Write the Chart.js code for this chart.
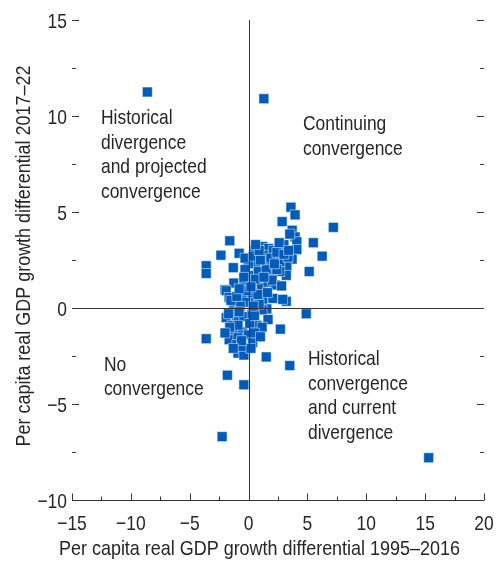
<!DOCTYPE html>
<html>
<head>
<meta charset="utf-8">
<script src="https://cdn.jsdelivr.net/npm/chart.js@4"></script>
<style>
  html, body { margin: 0; padding: 0; background: #fff; }
  #wrap { width: 496px; height: 564px; }
</style>
</head>
<body>
<div id="wrap"><canvas id="chart" width="496" height="564"></canvas></div>
<script>
// growth differential 1995-2016 (x) vs projected 2017-22 (y)
const histGrowth = [
  -8.6, 1.3, 15.3, -2.25, -3.6, -0.4, -1.8, 3.5, 1.5, 4.9,
  2.7, 3.2, 7.2, 5.5, 6.25, 5.15, 3.6, 3.95, 2.85, -3.6,
  -3.6, -2.35, -1.6, -0.8, -1.3, -1.25, -2.0, 3.7, 3.95, 4.1,
  1.2, 3.0, 1.7, 4.1, 3.7, 3.25, -0.1, 0.6, 1.4, 2.25,
  2.65, 3.2, 1.8, 0.8, 0.0, -1.9, -1.65, -0.55, -0.5, 0.35,
  1.1, 1.65, 2.3, 2.05, 2.9, 1.2, 0.55, 1.55, 1.15, -1.25,
  -1.9, -1.0, -0.4, 1.65, 0.7, 1.15, -1.4, -1.15, -0.5, -1.65,
  -0.9, 0.0, 0.35, -1.0, -0.9, -0.4, 3.35, 2.65, 2.0, 2.8,
  0.0, -0.3, -0.4, -0.3, 0.3, 0.9, 0.3, -0.7, 1.8, 2.1,
  1.5, 2.4, 0.5, 0.8, 0.1, -0.9, 0.5, -0.6, 0.2, 3.5,
  -0.3, -0.4, -0.2, 0.4, 0.6, 1.0, 1.3, 0.9, 1.9, 2.4,
  3.0, 2.6, 3.4, -1.3, -0.8, -1.6, -0.6, -1.3, 0.5, 1.0,
  -1.5, -1.0, -0.8, 0.2, 1.6, 2.2, 0.4, -1.7, -2.0, 0.6
];
const projGrowth = [
  11.25, 10.9, -7.8, -6.7, -1.6, -4.0, -3.5, -3.0, -2.55, -0.3,
  -1.1, 0.35, 4.2, 3.4, 2.7, 1.9, 5.25, 4.85, 4.5, 2.2,
  1.8, 2.75, 3.5, 2.85, 2.1, 1.3, 0.95, 4.05, 3.7, 3.45,
  3.2, 3.3, 3.1, 3.05, 2.55, 2.15, 2.5, 2.35, 2.75, 2.65,
  2.4, 1.7, 1.75, 1.9, 1.7, 0.9, 0.55, 0.85, 0.5, 1.35,
  1.05, 1.35, 1.2, 0.5, 0.45, 0.4, 0.35, -0.05, -0.1, 0.0,
  -0.5, -0.45, -0.45, -0.6, -0.9, -1.0, -0.9, -1.25, -1.25, -1.65,
  -1.55, -1.4, -1.8, -1.9, -2.35, -2.45, 2.65, 1.9, 1.45, 1.15,
  2.3, 2.0, 1.2, 0.3, 0.8, 0.2, -0.3, 0.1, 2.25, 3.0,
  2.0, 2.0, 3.0, 0.7, -0.8, -0.9, -0.4, -2.0, -2.1, 3.85,
  2.6, 1.6, 0.9, 2.7, 1.5, 2.5, 1.6, 3.0, 2.6, 2.9,
  2.8, 3.4, 3.0, -0.2, -0.2, -1.0, -1.7, -2.1, -1.3, -1.5,
  0.4, 0.6, 1.0, 1.1, 0.8, 2.3, 0.1, -0.3, -1.3, 3.3
];
const xTicks = [-15, -10, -5, 0, 5, 10, 15, 20];
const yTicks = [-10, -5, 0, 5, 10, 15];
const xTitle = 'Per capita real GDP growth differential 1995\u20132016';
const yTitle = 'Per capita real GDP growth differential 2017\u201322';
const quadrantLabels = [
  ['Historical', 'divergence', 'and projected', 'convergence'],
  ['Continuing', 'convergence'],
  ['No', 'convergence'],
  ['Historical', 'convergence', 'and current', 'divergence']
];
// first-line baseline of each label block, in data units
const quadrantAnchors = [[-12.54, 9.58], [4.62, 9.27], [-12.29, -3.28], [5.05, -2.97]];

// the original uses a narrow grotesque; squeeze Liberation Sans to match
const FONT = '21px "Liberation Sans", Arial, sans-serif';
const SQUEEZE = 0.83;
const TITLE_SQUEEZE = 0.855;
const INK = '#262626';
const minus = v => String(v).replace('-', '\u2212');

const points = histGrowth.map((x, i) => ({ x: x, y: projGrowth[i] }));

function narrowText(ctx, text, x, y, align, angle, squeeze) {
  ctx.save();
  ctx.translate(x, y);
  if (angle) ctx.rotate(angle);
  ctx.scale(squeeze || SQUEEZE, 1);
  ctx.textAlign = align;
  ctx.fillText(text, 0, 0);
  ctx.restore();
}

const framePlugin = {
  id: 'frame',
  afterDatasetsDraw(chart) {
    const { ctx, chartArea: a, scales: { x, y } } = chart;
    ctx.save();
    ctx.strokeStyle = '#333';
    ctx.lineWidth = 1;
    ctx.beginPath();
    // zero lines
    const x0 = Math.round(x.getPixelForValue(0)) + 0.5;
    const y0 = Math.round(y.getPixelForValue(0)) + 0.5;
    ctx.moveTo(x0, a.top); ctx.lineTo(x0, a.bottom);
    ctx.moveTo(a.left, y0); ctx.lineTo(a.right, y0);
    // bottom axis
    const yb = Math.round(a.bottom) + 0.5;
    ctx.moveTo(a.left, yb); ctx.lineTo(a.right, yb);
    // x ticks (major + minor), pointing up
    for (let v = x.min; v <= x.max; v += 2.5) {
      const px = Math.round(x.getPixelForValue(v)) + 0.5;
      const len = v % 5 === 0 ? 7 : 4;
      ctx.moveTo(px, yb); ctx.lineTo(px, yb - len);
    }
    // y ticks on both sides, pointing in
    for (let v = y.min; v <= y.max; v += 2.5) {
      if (v === y.min) continue;
      const py = Math.round(y.getPixelForValue(v)) + 0.5;
      const len = v % 5 === 0 ? 7 : 4;
      ctx.moveTo(a.left, py); ctx.lineTo(a.left + len, py);
      ctx.moveTo(a.right, py); ctx.lineTo(a.right - len, py);
    }
    ctx.stroke();

    ctx.fillStyle = INK;
    ctx.font = FONT;
    ctx.textBaseline = 'alphabetic';
    // tick labels
    yTicks.forEach(v => narrowText(ctx, minus(v), a.left - 5, y.getPixelForValue(v) + 7.5, 'right'));
    xTicks.forEach(v => narrowText(ctx, minus(v), x.getPixelForValue(v), a.bottom + 30, 'center'));
    // axis titles
    narrowText(ctx, xTitle, 59, a.bottom + 55, 'left', 0, TITLE_SQUEEZE);
    narrowText(ctx, yTitle, 30, (a.top + a.bottom) / 2 - 4, 'center', -Math.PI / 2, TITLE_SQUEEZE);
    // quadrant labels
    quadrantLabels.forEach((lines, i) => {
      const px = x.getPixelForValue(quadrantAnchors[i][0]);
      const py = y.getPixelForValue(quadrantAnchors[i][1]);
      lines.forEach((t, j) => narrowText(ctx, t, px, py + j * 24.5, 'left'));
    });
    ctx.restore();
  }
};

new Chart(document.getElementById('chart'), {
  type: 'scatter',
  data: {
    datasets: [{
      data: points,
      pointStyle: 'rect',
      pointRadius: 7,
      pointHoverRadius: 7,
      backgroundColor: '#005bbb',
      borderColor: '#ffffff',
      borderWidth: 0.5
    }]
  },
  options: {
    responsive: false,
    animation: false,
    events: [],
    layout: { padding: { top: 20, right: 12, left: 0, bottom: 0 } },
    plugins: { legend: { display: false }, tooltip: { enabled: false } },
    scales: {
      x: {
        type: 'linear',
        min: -15, max: 20,
        afterFit: s => { s.height = 64; s.paddingLeft = 0; s.paddingRight = 0; },
        grid: { display: false, drawTicks: false },
        border: { display: false },
        ticks: { display: false, stepSize: 5 },
        title: { display: false }
      },
      y: {
        type: 'linear',
        min: -10, max: 15,
        afterFit: s => { s.width = 72; s.paddingTop = 0; s.paddingBottom = 0; },
        grid: { display: false, drawTicks: false },
        border: { display: false },
        ticks: { display: false, stepSize: 5 },
        title: { display: false }
      }
    }
  },
  plugins: [framePlugin]
});
</script>
</body>
</html>
